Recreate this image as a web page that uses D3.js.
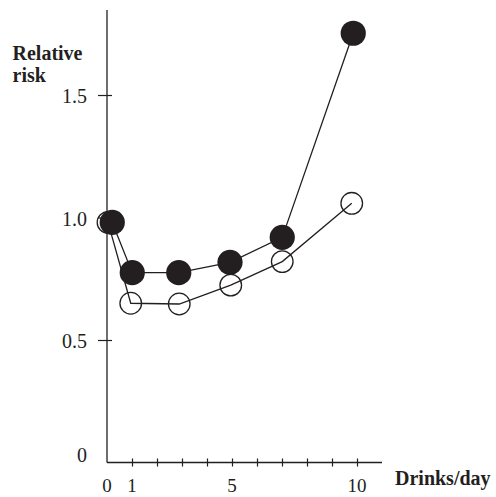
<!DOCTYPE html>
<html>
<head>
<meta charset="utf-8">
<script src="https://cdn.jsdelivr.net/npm/d3@7"></script>
<style>
  html, body { margin: 0; padding: 0; background: #fff; }
  svg { display: block; }
</style>
</head>
<body>
<svg id="chart" width="496" height="497"></svg>
<script>
// Relative risk by drinks per day, two groups
const drinksFilled = [0.21, 1.01, 2.87, 4.92, 7.01, 9.85];
const riskFilled   = [0.98, 0.775, 0.775, 0.817, 0.919, 1.752];
const drinksOpen   = [0.04, 0.95, 2.89, 4.95, 7.01, 9.79];
const riskOpen     = [0.98, 0.65, 0.647, 0.724, 0.82, 1.058];

const xTicks = [1, 2, 3, 4, 5, 6, 7, 8, 9, 10];
const xTickLabels = ["0", "1", "5", "10"];
const yTicks = [0, 0.5, 1.0, 1.5];
const yTickLabels = ["0", "0.5", "1.0", "1.5"];

const ink = "#231f20";
const serif = "'Liberation Serif', 'Times New Roman', serif";

const svg = d3.select("#chart");

const x = d3.scaleLinear().domain([0, 11]).range([107, 382]);
const y = d3.scaleLinear().domain([0, 1.847]).range([462.5, 10]);

// Axes
const xAxis = svg.append("g")
  .attr("transform", `translate(0,${y(0)})`)
  .call(d3.axisBottom(x).tickValues(xTicks).tickSize(5).tickFormat(""));
xAxis.select(".domain").attr("d", `M${x(0)},0H${x(11)}`).attr("stroke", ink).attr("stroke-width", 1.3);
xAxis.selectAll(".tick line").attr("y1", -4).attr("y2", 4).attr("stroke", ink).attr("stroke-width", 1.2);

xAxis.selectAll(".xlab")
  .data(xTickLabels)
  .join("text")
  .attr("class", "xlab")
  .attr("x", d => x(+d))
  .attr("y", 29.5)
  .attr("text-anchor", "middle")
  .attr("font-family", serif)
  .attr("font-size", 19)
  .attr("fill", ink)
  .text(d => d);

const yAxis = svg.append("g")
  .attr("transform", `translate(${x(0)},0)`)
  .call(d3.axisLeft(y).tickValues(yTicks.filter(v => v > 0)).tickSize(9).tickFormat(""));
yAxis.select(".domain").attr("d", `M0,${y(0)}V${y(1.847)}`).attr("stroke", ink).attr("stroke-width", 1.3);
yAxis.selectAll(".tick line").attr("x1", -9).attr("x2", 5).attr("stroke", ink).attr("stroke-width", 1.2);

yAxis.selectAll(".ylab")
  .data(yTicks)
  .join("text")
  .attr("class", "ylab")
  .attr("x", -20)
  // the zero label sits up against the horizontal axis
  .attr("y", d => d === 0 ? y(0) - 0.5 : y(d) + 8)
  .attr("text-anchor", "end")
  .attr("font-family", serif)
  .attr("font-size", 20)
  .attr("fill", ink)
  .text((d, i) => yTickLabels[i]);

// Axis titles
const yTitle = svg.append("text")
  .attr("font-family", serif)
  .attr("font-size", 20)
  .attr("font-weight", "bold")
  .attr("fill", ink);
yTitle.append("tspan").attr("x", 12.5).attr("y", 60).text("Relative");
yTitle.append("tspan").attr("x", 12.5).attr("y", 82).text("risk");

svg.append("text")
  .attr("x", 395)
  .attr("y", 485)
  .attr("font-family", serif)
  .attr("font-size", 20)
  .attr("font-weight", "bold")
  .attr("fill", ink)
  .text("Drinks/day");

// Series
const openPts = drinksOpen.map((d, i) => [d, riskOpen[i]]);
const filledPts = drinksFilled.map((d, i) => [d, riskFilled[i]]);
const line = d3.line().x(d => x(d[0])).y(d => y(d[1]));

svg.append("path")
  .datum(openPts)
  .attr("d", line)
  .attr("fill", "none")
  .attr("stroke", ink)
  .attr("stroke-width", 1.3);

svg.selectAll(".open")
  .data(openPts)
  .join("circle")
  .attr("class", "open")
  .attr("cx", d => x(d[0]))
  .attr("cy", d => y(d[1]))
  .attr("r", 10.8)
  .attr("fill", "none")
  .attr("stroke", ink)
  .attr("stroke-width", 1.3);

svg.append("path")
  .datum(filledPts)
  .attr("d", line)
  .attr("fill", "none")
  .attr("stroke", ink)
  .attr("stroke-width", 1.3);

svg.selectAll(".filled")
  .data(filledPts)
  .join("circle")
  .attr("class", "filled")
  .attr("cx", d => x(d[0]))
  .attr("cy", d => y(d[1]))
  .attr("r", 12.6)
  .attr("fill", ink);
</script>
</body>
</html>
